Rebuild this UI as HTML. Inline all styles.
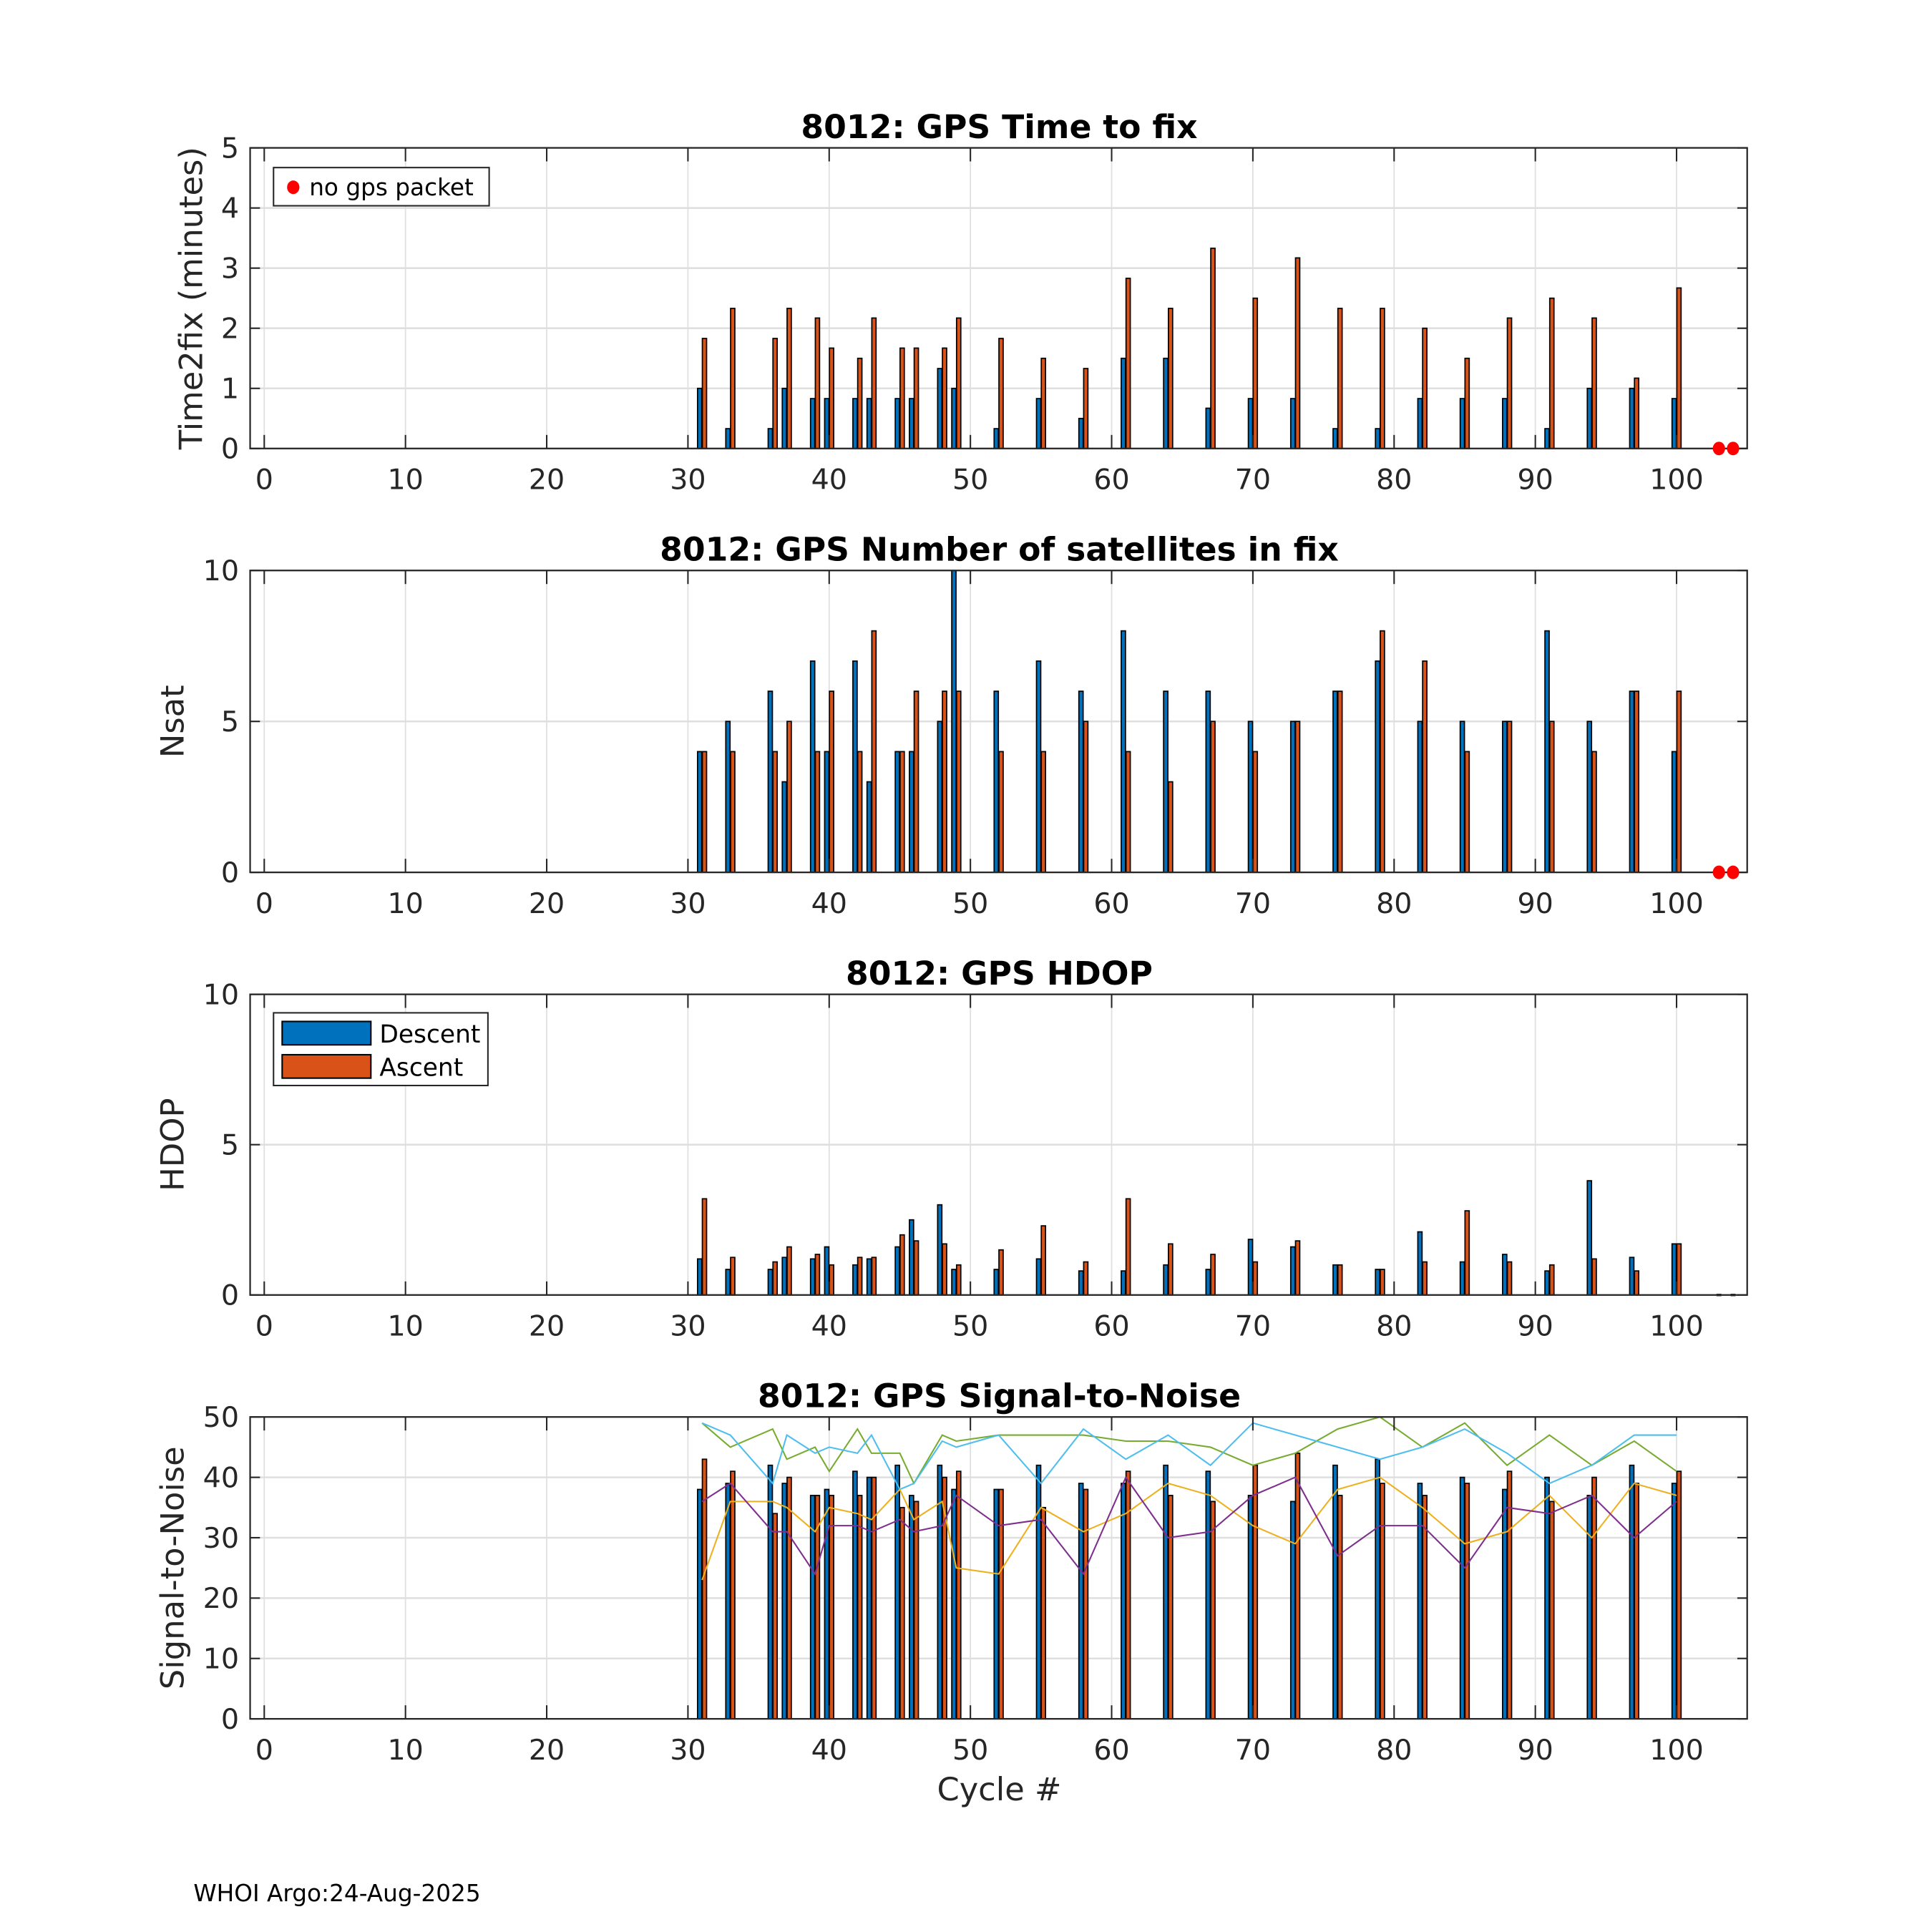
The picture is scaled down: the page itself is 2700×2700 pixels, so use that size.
<!DOCTYPE html>
<html><head><meta charset="utf-8"><style>
html,body{margin:0;padding:0;background:#fff;}
svg{display:block;font-family:"DejaVu Sans","Liberation Sans",sans-serif;}
</style></head><body>
<svg id="fig" width="2700" height="2700" viewBox="0 0 1568 1568" xmlns="http://www.w3.org/2000/svg">
<rect width="1568" height="1568" fill="#fff"/>
<text x="157" y="1543" font-size="19" fill="#000">WHOI Argo:24-Aug-2025</text>
<text x="811" y="1461" font-size="26" text-anchor="middle" fill="#262626">Cycle #</text>
</svg>
<script>
const cycles=[31,33,36,37,39,40,42,43,45,46,48,49,52,55,58,61,64,67,70,73,76,79,82,85,88,91,94,97,100];
const noPacket=[103,104];
const t2fDesc=[1,0.33,0.33,1,0.83,0.83,0.83,0.83,0.83,0.83,1.33,1,0.33,0.83,0.5,1.5,1.5,0.67,0.83,0.83,0.33,0.33,0.83,0.83,0.83,0.33,1,1,0.83];
const t2fAsc=[1.83,2.33,1.83,2.33,2.17,1.67,1.5,2.17,1.67,1.67,1.67,2.17,1.83,1.5,1.33,2.83,2.33,3.33,2.5,3.17,2.33,2.33,2,1.5,2.17,2.5,2.17,1.17,2.67];
const nsatDesc=[4,5,6,3,7,4,7,3,4,4,5,10,6,7,6,8,6,6,5,5,6,7,5,5,5,8,5,6,4];
const nsatAsc=[4,4,4,5,4,6,4,8,4,6,6,6,4,4,5,4,3,5,4,5,6,8,7,4,5,5,4,6,6];
const hdopDesc=[1.2,0.85,0.85,1.25,1.2,1.6,1,1.2,1.6,2.5,3,0.85,0.85,1.2,0.8,0.8,1,0.85,1.85,1.6,1,0.85,2.1,1.1,1.35,0.8,3.8,1.25,1.7];
const hdopAsc=[3.2,1.25,1.1,1.6,1.35,1,1.25,1.25,2,1.8,1.7,1,1.5,2.3,1.1,3.2,1.7,1.35,1.1,1.8,1,0.85,1.1,2.8,1.1,1,1.2,0.8,1.7];
const snrDesc=[38,39,42,39,37,38,41,40,42,37,42,38,38,42,39,39,42,41,37,36,42,43,39,40,38,40,37,42,39];
const snrAsc=[43,41,34,40,37,37,37,40,35,36,40,41,38,35,38,41,37,36,42,44,37,39,37,39,41,36,40,39,41];
const snrGreen=[49,45,48,43,45,41,48,44,44,39,47,46,47,47,47,46,46,45,42,44,48,50,45,49,42,47,42,46,41];
const snrCyan=[49,47,39,47,44,45,44,47,38,39,46,45,47,39,48,43,47,42,49,47,45,43,45,48,44,39,42,47,47];
const snrYellow=[23,36,36,35,31,35,34,33,38,33,36,25,24,35,31,34,39,37,32,29,38,40,35,29,31,37,30,39,37];
const snrPurple=[36,39,31,31,24,32,32,31,33,31,32,37,32,33,24,40,30,31,37,40,27,32,32,25,35,34,37,30,36];
const xTicks=[0,10,20,30,40,50,60,70,80,90,100];

const NS='http://www.w3.org/2000/svg';
const svg=document.getElementById('fig');
const L=203,R=1418,XMIN=-1,XMAX=105;
function sx(v){return L+(v-XMIN)/(XMAX-XMIN)*(R-L);}
function mk(tag,attrs,parent){const e=document.createElementNS(NS,tag);for(const k in attrs)e.setAttribute(k,attrs[k]);(parent||svg).appendChild(e);return e;}

const panels=[
 {key:'time2fix',top:120,bot:364,ymax:5,yt:[0,1,2,3,4,5],title:'8012: GPS Time to fix',ylab:'Time2fix (minutes)',ylx:164,desc:t2fDesc,asc:t2fAsc},
 {key:'nsat',top:463,bot:708,ymax:10,yt:[0,5,10],title:'8012: GPS Number of satellites in fix',ylab:'Nsat',ylx:149,desc:nsatDesc,asc:nsatAsc},
 {key:'hdop',top:807,bot:1051,ymax:10,yt:[0,5,10],title:'8012: GPS HDOP',ylab:'HDOP',ylx:149,desc:hdopDesc,asc:hdopAsc},
 {key:'snr',top:1150,bot:1395,ymax:50,yt:[0,10,20,30,40,50],title:'8012: GPS Signal-to-Noise',ylab:'Signal-to-Noise',ylx:149,desc:snrDesc,asc:snrAsc}
];

panels.forEach((p,pi)=>{
  const g=mk('g',{});
  
  
  const sy=v=>p.bot-(v/p.ymax)*(p.bot-p.top);
  xTicks.forEach(t=>{const l=mk('line',{x1:sx(t),x2:sx(t),y1:p.top,y2:p.bot,stroke:'#dfdfdf','stroke-width':1},g);
    });
  p.yt.forEach(t=>{const l=mk('line',{x1:L,x2:R,y1:sy(t),y2:sy(t),stroke:'#dfdfdf','stroke-width':1.5},g);
    });
  const bw=0.3;
  cycles.forEach((c,i)=>{
    const d=mk('rect',{x:sx(c-0.02-bw),y:sy(p.desc[i]),width:sx(bw)-sx(0),height:sy(0)-sy(p.desc[i]),fill:'#0072BD',stroke:'#000','stroke-width':1},g);
    
    const a=mk('rect',{x:sx(c+0.02),y:sy(p.asc[i]),width:sx(bw)-sx(0),height:sy(0)-sy(p.asc[i]),fill:'#D95319',stroke:'#000','stroke-width':1},g);
    
  });
  if(p.key==='snr'){
    const series=[[snrGreen,'#77AC30','snr-line-green'],[snrCyan,'#4DBEEE','snr-line-cyan'],[snrYellow,'#EDB120','snr-line-yellow'],[snrPurple,'#7E2F8E','snr-line-purple']];
    series.forEach(s=>{
      const pts=cycles.map((c,i)=>sx(c).toFixed(1)+','+sy(s[0][i]).toFixed(1)).join(' ');
      const pl=mk('polyline',{points:pts,fill:'none',stroke:s[1],'stroke-width':1.2},g);
      
    });
  }
  const box=mk('rect',{x:L,y:p.top,width:R-L,height:p.bot-p.top,fill:'none',stroke:'#262626','stroke-width':1.3},g);
  
  xTicks.forEach(t=>{
    mk('line',{x1:sx(t),x2:sx(t),y1:p.bot,y2:p.bot-11,stroke:'#262626','stroke-width':1.2},g);
    mk('line',{x1:sx(t),x2:sx(t),y1:p.top,y2:p.top+11,stroke:'#262626','stroke-width':1.2},g);
    const tx=mk('text',{x:sx(t),y:p.bot+33,'font-size':23,'text-anchor':'middle',fill:'#262626'},g);
    
    tx.textContent=t;
  });
  p.yt.forEach(t=>{
    mk('line',{x1:L,x2:L+8,y1:sy(t),y2:sy(t),stroke:'#262626','stroke-width':1.2},g);
    mk('line',{x1:R,x2:R-8,y1:sy(t),y2:sy(t),stroke:'#262626','stroke-width':1.2},g);
    const ty=mk('text',{x:194,y:sy(t)+8,'font-size':23,'text-anchor':'end',fill:'#262626'},g);
    
    ty.textContent=t;
  });
  const tt=mk('text',{x:811,y:p.top-8,'font-size':26.5,'font-weight':'bold','text-anchor':'middle',fill:'#000'},g);
  
  tt.textContent=p.title;
  const yl=mk('text',{x:p.ylx,y:(p.top+p.bot)/2,'font-size':26,'text-anchor':'middle',fill:'#262626',transform:'rotate(-90 '+p.ylx+' '+(p.top+p.bot)/2+')'},g);
  
  yl.textContent=p.ylab;
  if(p.key==='time2fix'||p.key==='nsat'){
    noPacket.forEach(c=>{const dot=mk('ellipse',{cx:sx(c),cy:sy(0),rx:5,ry:5.5,fill:'#ff0000'},g);
      });
  }
  if(p.key==='hdop'){
    noPacket.forEach(c=>{const m=mk('rect',{x:sx(c)-2,y:sy(0)-1,width:4,height:2,fill:'#262626'},g);
      });
  }
});

const lg1=mk('g',{});


mk('rect',{x:222,y:136,width:175,height:31,fill:'#fff',stroke:'#262626','stroke-width':1.2},lg1);
mk('ellipse',{cx:238,cy:152,rx:5,ry:5.5,fill:'#ff0000'},lg1);
const l1t=mk('text',{x:251,y:158.5,'font-size':19,fill:'#000'},lg1);


l1t.textContent='no gps packet';

const lg3=mk('g',{});


mk('rect',{x:222,y:822,width:174,height:59,fill:'#fff',stroke:'#262626','stroke-width':1.2},lg3);
mk('rect',{x:229,y:829,width:72,height:19,fill:'#0072BD',stroke:'#000','stroke-width':1.2},lg3);
mk('rect',{x:229,y:856,width:72,height:19,fill:'#D95319',stroke:'#000','stroke-width':1.2},lg3);
const d3=mk('text',{x:308,y:846,'font-size':20,fill:'#000'},lg3);


d3.textContent='Descent';
const a3=mk('text',{x:308,y:873,'font-size':20,fill:'#000'},lg3);


a3.textContent='Ascent';
</script>
</body></html>
